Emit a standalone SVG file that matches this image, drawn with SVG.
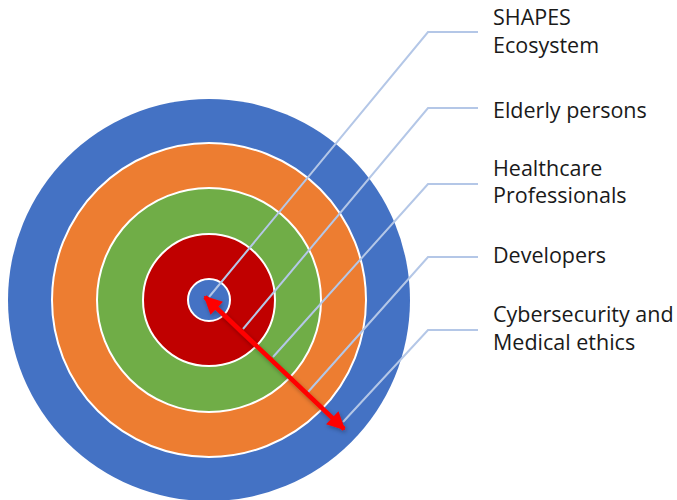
<svg xmlns="http://www.w3.org/2000/svg" width="677" height="500" viewBox="0 0 677 500">
  <defs>
    <style>
      .ring { stroke: #ffffff; stroke-width: 2; }
      .leader { fill: none; stroke: #b4c7e7; stroke-width: 2; }
      .label { font-family: "Open Sans", "Noto Sans", "DejaVu Sans", sans-serif; font-size: 21.5px; fill: #1a1a1a; }
      .arrow { stroke: #ff0000; stroke-width: 4.5; fill: none; }
    </style>
    <marker id="head" viewBox="0 0 10 10" refX="9" refY="5" markerWidth="4.6" markerHeight="4" orient="auto-start-reverse" markerUnits="strokeWidth">
      <path d="M0,0 L10,5 L0,10 z" fill="#ff0000"/>
    </marker>
    <filter id="soft-shadow" x="-20%" y="-20%" width="140%" height="140%">
      <feDropShadow dx="1" dy="2" stdDeviation="2" flood-color="#000000" flood-opacity="0.3"/>
    </filter>
  </defs>

  <!-- concentric stakeholder rings -->
  <g id="ring-cyber"><circle cx="209" cy="300" r="201" fill="#4472c4"/></g>
  <g id="ring-developers"><circle class="ring" cx="209" cy="300" r="157" fill="#ed7d31"/></g>
  <g id="ring-healthcare"><circle class="ring" cx="209" cy="300" r="112" fill="#70ad47"/></g>
  <g id="ring-elderly"><circle class="ring" cx="209" cy="300" r="66" fill="#c00000"/></g>
  <g id="ring-ecosystem"><circle class="ring" cx="209" cy="300" r="21" fill="#4472c4"/></g>

  <!-- callout leaders and the double-headed reach arrow -->
  <g id="connectors">
    <polyline class="leader" points="478,32 428,32 209,297"/>
    <polyline class="leader" points="478,108 428,108 243,329"/>
    <polyline class="leader" points="478,184 428,184 273,357"/>
    <polyline class="leader" points="478,257 428,257 308,392"/>
    <polyline class="leader" points="478,330 428,330 343,422"/>
    <line class="arrow" x1="205" y1="297" x2="344" y2="429" marker-start="url(#head)" marker-end="url(#head)" filter="url(#soft-shadow)"/>
  </g>

  <!-- labels -->
  <g id="label-ecosystem">
    <text class="label" x="493" y="25">SHAPES</text>
    <text class="label" x="493" y="53">Ecosystem</text>
  </g>
  <g id="label-elderly">
    <text class="label" x="493" y="118">Elderly persons</text>
  </g>
  <g id="label-healthcare">
    <text class="label" x="493" y="176">Healthcare</text>
    <text class="label" x="493" y="203">Professionals</text>
  </g>
  <g id="label-developers">
    <text class="label" x="493" y="263">Developers</text>
  </g>
  <g id="label-cyber">
    <text class="label" x="493" y="322">Cybersecurity and</text>
    <text class="label" x="493" y="350">Medical ethics</text>
  </g>
</svg>
